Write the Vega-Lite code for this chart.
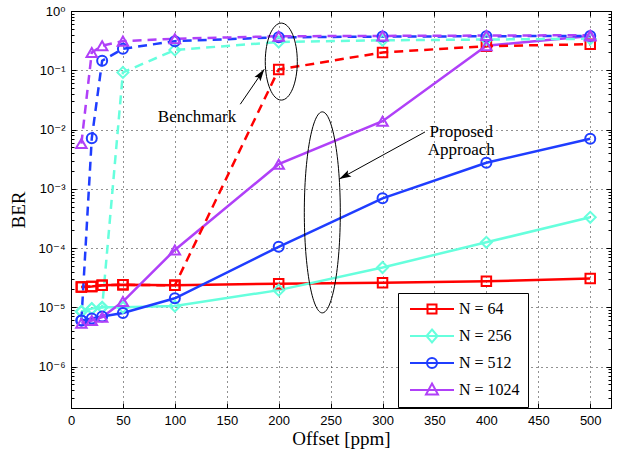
{
  "$schema": "https://vega.github.io/schema/vega-lite/v6.json",
  "width": 540,
  "height": 397,
  "autosize": "none",
  "padding": {"left": 71, "top": 11, "right": 11, "bottom": 49},
  "background": "white",
  "config": {
    "view": {"stroke": "black", "strokeWidth": 1},
    "axis": {
      "domainColor": "black", "domainWidth": 1,
      "tickColor": "black", "tickWidth": 1,
      "labelColor": "black", "labelFont": "Liberation Sans, DejaVu Sans", "labelFontSize": 13,
      "titleColor": "black", "titleFont": "Liberation Serif", "titleFontSize": 19, "titleFontWeight": "normal",
      "gridColor": "#222", "gridDash": [1, 4], "gridWidth": 1,
      "labelOverlap": false, "labelBound": false, "labelFlush": false
    }
  },
  "datasets": {
    "series": [
      {"method": "Proposed", "N": "64", "offset": 10, "ber": 2.2e-5},
      {"method": "Proposed", "N": "64", "offset": 20, "ber": 2.25e-5},
      {"method": "Proposed", "N": "64", "offset": 30, "ber": 2.35e-5},
      {"method": "Proposed", "N": "64", "offset": 50, "ber": 2.4e-5},
      {"method": "Proposed", "N": "64", "offset": 100, "ber": 2.35e-5},
      {"method": "Proposed", "N": "64", "offset": 200, "ber": 2.5e-5},
      {"method": "Proposed", "N": "64", "offset": 300, "ber": 2.6e-5},
      {"method": "Proposed", "N": "64", "offset": 400, "ber": 2.75e-5},
      {"method": "Proposed", "N": "64", "offset": 500, "ber": 3.05e-5},
      {"method": "Proposed", "N": "256", "offset": 10, "ber": 8.5e-6},
      {"method": "Proposed", "N": "256", "offset": 20, "ber": 9.5e-6},
      {"method": "Proposed", "N": "256", "offset": 30, "ber": 1.0e-5},
      {"method": "Proposed", "N": "256", "offset": 50, "ber": 1.0e-5},
      {"method": "Proposed", "N": "256", "offset": 100, "ber": 1.05e-5},
      {"method": "Proposed", "N": "256", "offset": 200, "ber": 1.95e-5},
      {"method": "Proposed", "N": "256", "offset": 300, "ber": 4.7e-5},
      {"method": "Proposed", "N": "256", "offset": 400, "ber": 1.25e-4},
      {"method": "Proposed", "N": "256", "offset": 500, "ber": 3.3e-4},
      {"method": "Proposed", "N": "512", "offset": 10, "ber": 6.0e-6},
      {"method": "Proposed", "N": "512", "offset": 20, "ber": 6.5e-6},
      {"method": "Proposed", "N": "512", "offset": 30, "ber": 7.0e-6},
      {"method": "Proposed", "N": "512", "offset": 50, "ber": 8.0e-6},
      {"method": "Proposed", "N": "512", "offset": 100, "ber": 1.42e-5},
      {"method": "Proposed", "N": "512", "offset": 200, "ber": 1.05e-4},
      {"method": "Proposed", "N": "512", "offset": 300, "ber": 6.9e-4},
      {"method": "Proposed", "N": "512", "offset": 400, "ber": 2.75e-3},
      {"method": "Proposed", "N": "512", "offset": 500, "ber": 7.0e-3},
      {"method": "Proposed", "N": "1024", "offset": 10, "ber": 5.4e-6},
      {"method": "Proposed", "N": "1024", "offset": 20, "ber": 6.0e-6},
      {"method": "Proposed", "N": "1024", "offset": 30, "ber": 6.8e-6},
      {"method": "Proposed", "N": "1024", "offset": 50, "ber": 1.25e-5},
      {"method": "Proposed", "N": "1024", "offset": 100, "ber": 9.3e-5},
      {"method": "Proposed", "N": "1024", "offset": 200, "ber": 2.6e-3},
      {"method": "Proposed", "N": "1024", "offset": 300, "ber": 1.38e-2},
      {"method": "Proposed", "N": "1024", "offset": 400, "ber": 0.26},
      {"method": "Proposed", "N": "1024", "offset": 500, "ber": 0.38},
      {"method": "Benchmark", "N": "64", "offset": 10, "ber": 2.2e-5},
      {"method": "Benchmark", "N": "64", "offset": 20, "ber": 2.25e-5},
      {"method": "Benchmark", "N": "64", "offset": 30, "ber": 2.35e-5},
      {"method": "Benchmark", "N": "64", "offset": 50, "ber": 2.4e-5},
      {"method": "Benchmark", "N": "64", "offset": 100, "ber": 2.35e-5},
      {"method": "Benchmark", "N": "64", "offset": 200, "ber": 0.103},
      {"method": "Benchmark", "N": "64", "offset": 300, "ber": 0.2},
      {"method": "Benchmark", "N": "64", "offset": 400, "ber": 0.255},
      {"method": "Benchmark", "N": "64", "offset": 500, "ber": 0.275},
      {"method": "Benchmark", "N": "256", "offset": 10, "ber": 8.5e-6},
      {"method": "Benchmark", "N": "256", "offset": 20, "ber": 9.5e-6},
      {"method": "Benchmark", "N": "256", "offset": 30, "ber": 1.0e-5},
      {"method": "Benchmark", "N": "256", "offset": 50, "ber": 0.092},
      {"method": "Benchmark", "N": "256", "offset": 100, "ber": 0.22},
      {"method": "Benchmark", "N": "256", "offset": 200, "ber": 0.30},
      {"method": "Benchmark", "N": "256", "offset": 300, "ber": 0.32},
      {"method": "Benchmark", "N": "256", "offset": 400, "ber": 0.33},
      {"method": "Benchmark", "N": "256", "offset": 500, "ber": 0.34},
      {"method": "Benchmark", "N": "512", "offset": 10, "ber": 6.0e-6},
      {"method": "Benchmark", "N": "512", "offset": 20, "ber": 7.1e-3},
      {"method": "Benchmark", "N": "512", "offset": 30, "ber": 0.145},
      {"method": "Benchmark", "N": "512", "offset": 50, "ber": 0.23},
      {"method": "Benchmark", "N": "512", "offset": 100, "ber": 0.31},
      {"method": "Benchmark", "N": "512", "offset": 200, "ber": 0.36},
      {"method": "Benchmark", "N": "512", "offset": 300, "ber": 0.37},
      {"method": "Benchmark", "N": "512", "offset": 400, "ber": 0.375},
      {"method": "Benchmark", "N": "512", "offset": 500, "ber": 0.38},
      {"method": "Benchmark", "N": "1024", "offset": 10, "ber": 5.8e-3},
      {"method": "Benchmark", "N": "1024", "offset": 20, "ber": 0.2},
      {"method": "Benchmark", "N": "1024", "offset": 30, "ber": 0.26},
      {"method": "Benchmark", "N": "1024", "offset": 50, "ber": 0.31},
      {"method": "Benchmark", "N": "1024", "offset": 100, "ber": 0.34},
      {"method": "Benchmark", "N": "1024", "offset": 200, "ber": 0.375},
      {"method": "Benchmark", "N": "1024", "offset": 300, "ber": 0.38},
      {"method": "Benchmark", "N": "1024", "offset": 400, "ber": 0.385},
      {"method": "Benchmark", "N": "1024", "offset": 500, "ber": 0.39}
    ],
    "notes": [
      {"kind": "ellipse1", "x": 202.5, "y": 0.14},
      {"kind": "ellipse2", "x": 242, "y": 0.0004},
      {"kind": "arrow1", "x": 163, "y": 0.0267, "x2": 186.1, "y2": 0.104},
      {"kind": "arrow2", "x": 340.9, "y": 0.0091, "x2": 258.3, "y2": 0.00146},
      {"kind": "label1", "x": 121.3, "y": 0.0163, "text": "Benchmark"},
      {"kind": "label2", "x": 375.8, "y": 0.0091, "text": "Proposed\nApproach"}
    ]
  },
  "layer": [
    {
      "data": {"name": "series"},
      "transform": [{"filter": "datum.method === 'Proposed'"}],
      "mark": {"type": "line", "strokeWidth": 2.5},
      "encoding": {
        "x": {"field": "offset", "type": "quantitative",
          "scale": {"domain": [0, 520], "nice": false, "zero": false},
          "axis": {"orient": "bottom", "title": "Offset [ppm]", "values": [0, 50, 100, 150, 200, 250, 300, 350, 400, 450, 500],
            "tickSize": -5, "labelPadding": 11, "grid": true, "titlePadding": 2}},
        "y": {"field": "ber", "type": "quantitative",
          "scale": {"type": "log", "domain": [2e-7, 1], "nice": false},
          "axis": {"orient": "left", "title": "BER", "titlePadding": 10,
            "values": [1, 0.1, 0.01, 0.001, 0.0001, 1e-5, 1e-6,
              2e-7, 3e-7, 4e-7, 5e-7, 6e-7, 7e-7, 8e-7, 9e-7,
              2e-6, 3e-6, 4e-6, 5e-6, 6e-6, 7e-6, 8e-6, 9e-6,
              2e-5, 3e-5, 4e-5, 5e-5, 6e-5, 7e-5, 8e-5, 9e-5,
              2e-4, 3e-4, 4e-4, 5e-4, 6e-4, 7e-4, 8e-4, 9e-4,
              0.002, 0.003, 0.004, 0.005, 0.006, 0.007, 0.008, 0.009,
              0.02, 0.03, 0.04, 0.05, 0.06, 0.07, 0.08, 0.09,
              0.2, 0.3, 0.4, 0.5, 0.6, 0.7, 0.8, 0.9],
            "labelExpr": "abs(log(datum.value)/LN10 - round(log(datum.value)/LN10)) < 0.001 ? '10' + ['⁰','⁻¹','⁻²','⁻³','⁻⁴','⁻⁵','⁻⁶','⁻⁷'][-round(log(datum.value)/LN10)] : ''",
            "tickSize": {"condition": {"test": "abs(log(datum.value)/LN10 - round(log(datum.value)/LN10)) < 0.001", "value": -5}, "value": -3},
            "labelPadding": 11,
            "grid": true,
            "gridOpacity": {"condition": {"test": "abs(log(datum.value)/LN10 - round(log(datum.value)/LN10)) < 0.001", "value": 1}, "value": 0}}},
        "color": {"field": "N", "type": "nominal",
          "scale": {"domain": ["64", "256", "512", "1024"], "range": ["#ff0000", "#66ffdd", "#1f3dff", "#b040f8"]},
          "legend": {"title": null, "orient": "none", "legendX": 327, "legendY": 282,
            "fillColor": "white", "strokeColor": "black", "padding": 8, "cornerRadius": 0,
            "labelFont": "Liberation Serif", "labelFontSize": 16, "labelColor": "black",
            "symbolSize": 100, "symbolOffset": 18, "labelOffset": 19, "rowPadding": 7,
            "labelExpr": "'N = ' + datum.label",
            "encode": {"symbols": {"update": {
              "shape": {"signal": "datum.value === '64' ? 'M-4.4,0L4.4,0M-0.9,-0.9L0.9,-0.9L0.9,0.9L-0.9,0.9Z' : datum.value === '256' ? 'M-4.4,0L4.4,0M0,-1.3L1.1,0L0,1.3L-1.1,0Z' : datum.value === '512' ? 'M-4.4,0L4.4,0M-1,0A1,1,0,1,1,1,0A1,1,0,1,1,-1,0Z' : 'M-4.4,0L4.4,0M0,-1.3L1.2,0.9L-1.2,0.9Z'"},
              "stroke": {"scale": "color", "field": "value"},
              "fill": {"value": "transparent"},
              "strokeWidth": {"value": 2}}}}}}
      }
    },
    {
      "data": {"name": "series"},
      "transform": [{"filter": "datum.method === 'Benchmark'"}],
      "mark": {"type": "line", "strokeWidth": 2.5, "strokeDash": [9, 6]},
      "encoding": {
        "x": {"field": "offset", "type": "quantitative",
          "scale": {"domain": [0, 520], "nice": false, "zero": false},
          "axis": {"orient": "top", "title": null, "labels": false, "values": [0, 50, 100, 150, 200, 250, 300, 350, 400, 450, 500],
            "tickSize": -5, "grid": false}},
        "y": {"field": "ber", "type": "quantitative",
          "scale": {"type": "log", "domain": [2e-7, 1], "nice": false},
          "axis": {"orient": "right", "title": null, "labels": false, "grid": false,
            "values": [1, 0.1, 0.01, 0.001, 0.0001, 1e-5, 1e-6,
              2e-7, 3e-7, 4e-7, 5e-7, 6e-7, 7e-7, 8e-7, 9e-7,
              2e-6, 3e-6, 4e-6, 5e-6, 6e-6, 7e-6, 8e-6, 9e-6,
              2e-5, 3e-5, 4e-5, 5e-5, 6e-5, 7e-5, 8e-5, 9e-5,
              2e-4, 3e-4, 4e-4, 5e-4, 6e-4, 7e-4, 8e-4, 9e-4,
              0.002, 0.003, 0.004, 0.005, 0.006, 0.007, 0.008, 0.009,
              0.02, 0.03, 0.04, 0.05, 0.06, 0.07, 0.08, 0.09,
              0.2, 0.3, 0.4, 0.5, 0.6, 0.7, 0.8, 0.9],
            "tickSize": {"condition": {"test": "abs(log(datum.value)/LN10 - round(log(datum.value)/LN10)) < 0.001", "value": -5}, "value": -3}}},
        "color": {"field": "N", "type": "nominal",
          "scale": {"domain": ["64", "256", "512", "1024"], "range": ["#ff0000", "#66ffdd", "#1f3dff", "#b040f8"]}}
      }
    },
    {
      "data": {"name": "series"},
      "transform": [{"filter": "datum.N === '64'"}],
      "mark": {"type": "point", "filled": false, "strokeWidth": 2, "size": 90, "opacity": 1, "shape": "square"},
      "encoding": {
        "x": {"field": "offset", "type": "quantitative", "scale": {"domain": [0, 520], "nice": false, "zero": false}, "axis": null},
        "y": {"field": "ber", "type": "quantitative", "scale": {"type": "log", "domain": [2e-7, 1], "nice": false}, "axis": null},
        "color": {"field": "N", "type": "nominal",
          "scale": {"domain": ["64", "256", "512", "1024"], "range": ["#ff0000", "#66ffdd", "#1f3dff", "#b040f8"]}, "legend": null}
      }
    },
    {
      "data": {"name": "series"},
      "transform": [{"filter": "datum.N === '256'"}],
      "mark": {"type": "point", "filled": false, "strokeWidth": 2, "size": 120, "opacity": 1, "shape": "diamond"},
      "encoding": {
        "x": {"field": "offset", "type": "quantitative", "scale": {"domain": [0, 520], "nice": false, "zero": false}, "axis": null},
        "y": {"field": "ber", "type": "quantitative", "scale": {"type": "log", "domain": [2e-7, 1], "nice": false}, "axis": null},
        "color": {"field": "N", "type": "nominal",
          "scale": {"domain": ["64", "256", "512", "1024"], "range": ["#ff0000", "#66ffdd", "#1f3dff", "#b040f8"]}, "legend": null}
      }
    },
    {
      "data": {"name": "series"},
      "transform": [{"filter": "datum.N === '512'"}],
      "mark": {"type": "point", "filled": false, "strokeWidth": 2, "size": 100, "opacity": 1, "shape": "circle"},
      "encoding": {
        "x": {"field": "offset", "type": "quantitative", "scale": {"domain": [0, 520], "nice": false, "zero": false}, "axis": null},
        "y": {"field": "ber", "type": "quantitative", "scale": {"type": "log", "domain": [2e-7, 1], "nice": false}, "axis": null},
        "color": {"field": "N", "type": "nominal",
          "scale": {"domain": ["64", "256", "512", "1024"], "range": ["#ff0000", "#66ffdd", "#1f3dff", "#b040f8"]}, "legend": null}
      }
    },
    {
      "data": {"name": "series"},
      "transform": [{"filter": "datum.N === '1024'"}],
      "mark": {"type": "point", "filled": false, "strokeWidth": 2, "size": 110, "opacity": 1, "shape": "triangle-up"},
      "encoding": {
        "x": {"field": "offset", "type": "quantitative", "scale": {"domain": [0, 520], "nice": false, "zero": false}, "axis": null},
        "y": {"field": "ber", "type": "quantitative", "scale": {"type": "log", "domain": [2e-7, 1], "nice": false}, "axis": null},
        "color": {"field": "N", "type": "nominal",
          "scale": {"domain": ["64", "256", "512", "1024"], "range": ["#ff0000", "#66ffdd", "#1f3dff", "#b040f8"]}, "legend": null}
      }
    },
    {
      "data": {"name": "notes"},
      "transform": [{"filter": "datum.kind === 'ellipse1'"}],
      "mark": {"type": "point", "filled": false, "stroke": "black", "strokeWidth": 1, "opacity": 1, "size": 5929,
        "shape": "M-0.416,0A0.416,1,0,1,1,0.416,0A0.416,1,0,1,1,-0.416,0Z"},
      "encoding": {
        "x": {"field": "x", "type": "quantitative", "scale": {"domain": [0, 520], "nice": false, "zero": false}, "axis": null},
        "y": {"field": "y", "type": "quantitative", "scale": {"type": "log", "domain": [2e-7, 1], "nice": false}, "axis": null}
      }
    },
    {
      "data": {"name": "notes"},
      "transform": [{"filter": "datum.kind === 'ellipse2'"}],
      "mark": {"type": "point", "filled": false, "stroke": "black", "strokeWidth": 1, "opacity": 1, "size": 40401,
        "shape": "M-0.179,0A0.179,1,0,1,1,0.179,0A0.179,1,0,1,1,-0.179,0Z"},
      "encoding": {
        "x": {"field": "x", "type": "quantitative", "scale": {"domain": [0, 520], "nice": false, "zero": false}, "axis": null},
        "y": {"field": "y", "type": "quantitative", "scale": {"type": "log", "domain": [2e-7, 1], "nice": false}, "axis": null}
      }
    },
    {
      "data": {"name": "notes"},
      "transform": [{"filter": "datum.kind === 'arrow1' || datum.kind === 'arrow2'"}],
      "mark": {"type": "rule", "color": "black", "strokeWidth": 1},
      "encoding": {
        "x": {"field": "x", "type": "quantitative", "scale": {"domain": [0, 520], "nice": false, "zero": false}, "axis": null},
        "y": {"field": "y", "type": "quantitative", "scale": {"type": "log", "domain": [2e-7, 1], "nice": false}, "axis": null},
        "x2": {"field": "x2"},
        "y2": {"field": "y2"}
      }
    },
    {
      "data": {"name": "notes"},
      "transform": [{"filter": "datum.kind === 'arrow1'"}],
      "mark": {"type": "point", "filled": true, "color": "black", "opacity": 1, "size": 144, "angle": 34.5,
        "shape": "M0,0L-0.6,2L0,1.6L0.6,2Z"},
      "encoding": {
        "x": {"field": "x2", "type": "quantitative", "scale": {"domain": [0, 520], "nice": false, "zero": false}, "axis": null},
        "y": {"field": "y2", "type": "quantitative", "scale": {"type": "log", "domain": [2e-7, 1], "nice": false}, "axis": null}
      }
    },
    {
      "data": {"name": "notes"},
      "transform": [{"filter": "datum.kind === 'arrow2'"}],
      "mark": {"type": "point", "filled": true, "color": "black", "opacity": 1, "size": 144, "angle": 241.3,
        "shape": "M0,0L-0.6,2L0,1.6L0.6,2Z"},
      "encoding": {
        "x": {"field": "x2", "type": "quantitative", "scale": {"domain": [0, 520], "nice": false, "zero": false}, "axis": null},
        "y": {"field": "y2", "type": "quantitative", "scale": {"type": "log", "domain": [2e-7, 1], "nice": false}, "axis": null}
      }
    },
    {
      "data": {"name": "notes"},
      "transform": [{"filter": "datum.kind === 'label1' || datum.kind === 'label2'"}],
      "mark": {"type": "text", "font": "Liberation Serif", "fontSize": 17, "color": "black", "align": "center", "baseline": "middle", "lineBreak": "\n", "lineHeight": 18.5},
      "encoding": {
        "x": {"field": "x", "type": "quantitative", "scale": {"domain": [0, 520], "nice": false, "zero": false}, "axis": null},
        "y": {"field": "y", "type": "quantitative", "scale": {"type": "log", "domain": [2e-7, 1], "nice": false}, "axis": null},
        "text": {"field": "text"}
      }
    }
  ],
  "resolve": {"axis": {"x": "independent", "y": "independent"}}
}
